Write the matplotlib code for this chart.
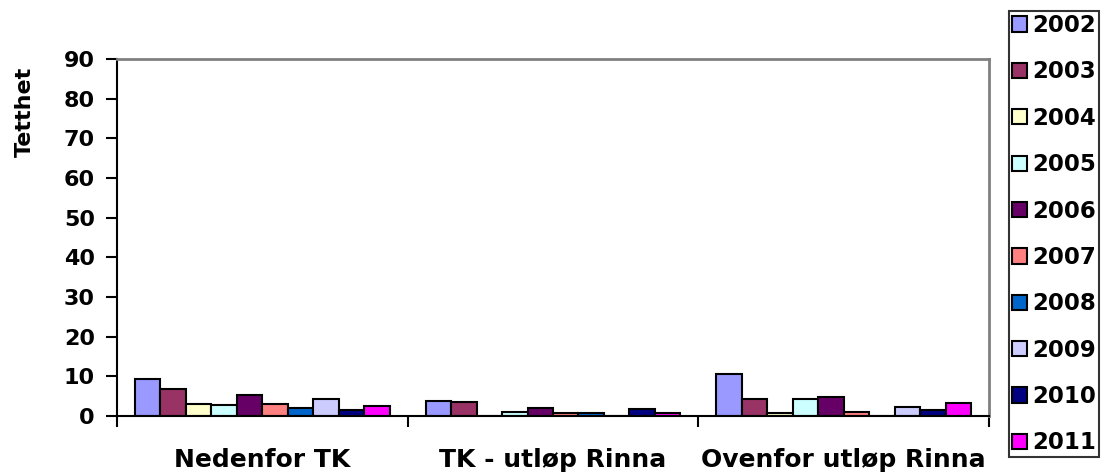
import numpy as np
import matplotlib
matplotlib.use("Agg")
import matplotlib.pyplot as plt
from matplotlib.ticker import FixedLocator, NullFormatter

# data
categories = ["Nedenfor TK", "TK - utløp Rinna", "Ovenfor utløp Rinna"]
years = ["2002", "2003", "2004", "2005", "2006", "2007", "2008", "2009", "2010", "2011"]
values_2002 = [9.3, 3.8, 10.6]
values_2003 = [6.8, 3.6, 4.2]
values_2004 = [3.0, 0.0, 0.8]
values_2005 = [2.8, 1.1, 4.2]
values_2006 = [5.3, 1.9, 4.7]
values_2007 = [2.9, 0.7, 1.1]
values_2008 = [1.9, 0.8, 0.0]
values_2009 = [4.3, 0.0, 2.3]
values_2010 = [1.5, 1.7, 1.6]
values_2011 = [2.5, 0.7, 3.4]
series = [values_2002, values_2003, values_2004, values_2005, values_2006,
          values_2007, values_2008, values_2009, values_2010, values_2011]
colors = ["#9999FF", "#993366", "#FFFFCC", "#CCFFFF", "#660066",
          "#FF8080", "#0066CC", "#CCCCFF", "#000080", "#FF00FF"]

plt.rcParams['font.family'] = ['DejaVu Sans']
plt.rcParams['font.weight'] = 'bold'

fig = plt.figure(figsize=(11.1, 4.73), dpi=100)
ax = fig.add_axes([0.1054, 0.1205, 0.7856, 0.7548])

x = np.arange(len(categories))
bar_width = 0.0876
offset = -bar_width * (len(series) - 1) / 2
for i, (vals, year) in enumerate(zip(series, years)):
    ax.bar(x + offset + i * bar_width, vals, width=bar_width, color=colors[i],
           edgecolor='black', linewidth=1.5, label=year)

ax.set_xlim(-0.5, 2.5)
ax.set_ylim(0, 90)
ax.set_yticks(np.arange(0, 91, 10))
ax.tick_params(axis='y', direction='out', length=8, width=1.5, pad=8, labelsize=16)

# category labels at centres, tick marks between categories
ax.set_xticks(x)
ax.set_xticklabels(categories, fontsize=18, fontweight='bold')
ax.tick_params(axis='x', which='major', length=0, pad=23)
ax.xaxis.set_minor_locator(FixedLocator([-0.5, 0.5, 1.5, 2.5]))
ax.xaxis.set_minor_formatter(NullFormatter())
ax.tick_params(axis='x', which='minor', direction='out', length=8, width=1.5)

for side in ['left', 'bottom']:
    ax.spines[side].set_color('black')
    ax.spines[side].set_linewidth(1.5)
for side in ['top', 'right']:
    ax.spines[side].set_color('#808080')
    ax.spines[side].set_linewidth(2)

fig.text(0.022, 0.763, "Tetthet", rotation=90, ha='center', va='center',
         fontsize=16, fontweight='bold')

leg = fig.legend(loc='upper left', bbox_to_anchor=(0.909, 0.976), fontsize=16.5,
                 frameon=True, fancybox=False, edgecolor='black',
                 handlelength=0.65, handleheight=0.65, handletextpad=0.25,
                 labelspacing=1.02, borderpad=0.12, borderaxespad=0)
leg.get_frame().set_linewidth(1.5)
for t in leg.get_texts():
    t.set_fontweight('bold')

fig.savefig("out.png", dpi=100)
